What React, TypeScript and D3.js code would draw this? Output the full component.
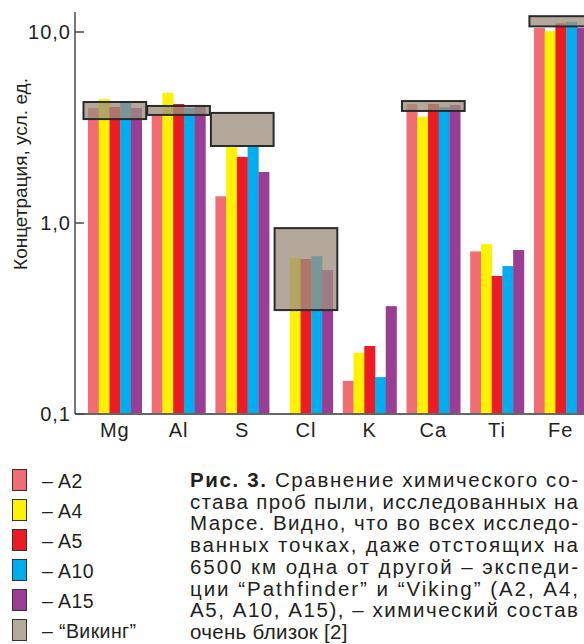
import * as d3 from "d3";
import { useEffect, useRef } from "react";

// elements on the x axis
const categories = ["Mg", "Al", "S", "Cl", "K", "Ca", "Ti", "Fe"];

// Pathfinder samples (null = not measured)
const a2 = [4.0, 3.7, 1.38, null, 0.149, 4.2, 0.71, 10.5];
const a4 = [4.45, 4.8, 2.55, 0.655, 0.209, 3.6, 0.775, 10.1];
const a5 = [4.05, 4.2, 2.22, 0.648, 0.227, 4.2, 0.528, 11.1];
const a10 = [4.25, 4.0, 2.55, 0.67, 0.156, 4.05, 0.595, 11.3];
const a15 = [4.0, 4.15, 1.85, 0.567, 0.367, 4.15, 0.722, 10.5];

// Viking range (low / high)
const vikingLow = [3.5, 3.68, 2.53, 0.35, null, 3.86, null, 10.7];
const vikingHigh = [4.3, 4.1, 3.77, 0.94, null, 4.35, null, 12.1];

const seriesNames = ["A2", "A4", "A5", "A10", "A15"];
const seriesValues = [a2, a4, a5, a10, a15];
const seriesColors = ["#f26c74", "#fff200", "#ed1c24", "#00aeef", "#9a3d95"];

const yTicks = [0.1, 1, 10];
const yTickLabels = ["0,1", "1,0", "10,0"];

const legendLabels = [...seriesNames.map((s) => `– ${s}`), "– “Викинг”"];
const legendColors = [...seriesColors, "#b4aa9c"];

const captionLines = [
  "Сравнение химического со-",
  "става проб пыли, исследованных на",
  "Марсе. Видно, что во всех исследо-",
  "ванных точках, даже отстоящих на",
  "6500 км одна от другой – экспеди-",
  "ции “Pathfinder” и “Viking” (А2, А4,",
  "А5, А10, А15), – химический состав",
  "очень близок [2]",
];

const font = "'Liberation Sans', Arial, Helvetica, sans-serif";

function drawChart(gElement: SVGGElement) {
  const g = d3.select(gElement);
  g.selectAll("*").remove();

  const axisX = 75;
  const axisBottom = 414;

  const x = d3
    .scaleBand()
    .domain(categories)
    .range([axisX, 600.6])
    .paddingInner(0.157)
    .paddingOuter(0.204);

  const xInner = d3.scaleBand().domain(seriesNames).range([0, x.bandwidth()]);

  const y = d3.scaleLog().domain([0.1, 10]).range([axisBottom, 32]);

  // bars
  seriesValues.forEach((values, si) => {
    g.append("g")
      .selectAll("rect")
      .data(categories.map((c, i) => ({ c, v: values[i] })).filter((d) => d.v != null))
      .join("rect")
      .attr("x", (d) => (x(d.c) as number) + (xInner(seriesNames[si]) as number))
      .attr("y", (d) => y(d.v as number))
      .attr("width", xInner.bandwidth() + 0.3)
      .attr("height", (d) => axisBottom - y(d.v as number))
      .attr("fill", seriesColors[si]);
  });

  // Viking boxes
  const boxes = categories
    .map((c, i) => ({ c, lo: vikingLow[i], hi: vikingHigh[i] }))
    .filter((d) => d.lo != null && d.hi != null);

  g.append("g")
    .selectAll("rect")
    .data(boxes)
    .join("rect")
    .attr("x", (d) => (x(d.c) as number) - 4.5)
    .attr("y", (d) => y(d.hi as number))
    .attr("width", x.bandwidth() + 9)
    .attr("height", (d) => y(d.lo as number) - y(d.hi as number))
    .attr("fill", "#9d907e")
    .attr("fill-opacity", 0.78)
    .attr("stroke", "#2b2b2b")
    .attr("stroke-width", 2);

  // axes
  g.append("line")
    .attr("x1", axisX)
    .attr("x2", axisX)
    .attr("y1", 12)
    .attr("y2", axisBottom)
    .attr("stroke", "#4a4a4a")
    .attr("stroke-width", 1.5);
  g.append("line")
    .attr("x1", axisX)
    .attr("x2", 584)
    .attr("y1", axisBottom)
    .attr("y2", axisBottom)
    .attr("stroke", "#666")
    .attr("stroke-width", 1.8);

  const ticks = g.append("g").selectAll("g").data(yTicks).join("g");
  ticks
    .append("line")
    .attr("x1", axisX)
    .attr("x2", axisX + 9)
    .attr("y1", (d) => y(d))
    .attr("y2", (d) => y(d))
    .attr("stroke", "#4a4a4a")
    .attr("stroke-width", 1.5);
  ticks
    .append("text")
    .attr("x", axisX - 4)
    .attr("y", (d) => y(d) + 7)
    .attr("text-anchor", "end")
    .attr("font-size", 20)
    .attr("letter-spacing", 1)
    .attr("fill", "#231f20")
    .text((d, i) => yTickLabels[i]);

  g.append("g")
    .selectAll("text")
    .data(categories)
    .join("text")
    .attr("x", (d) => (x(d) as number) + x.bandwidth() / 2)
    .attr("y", 437)
    .attr("text-anchor", "middle")
    .attr("font-size", 20)
    .attr("letter-spacing", 1)
    .attr("fill", "#231f20")
    .text((d) => d);

  g.append("text")
    .attr("transform", "translate(27,174) rotate(-90)")
    .attr("text-anchor", "middle")
    .attr("font-size", 19)
    .attr("fill", "#231f20")
    .text("Концетрация, усл. ед.");
}

export default function App() {
  const chartRef = useRef<SVGGElement>(null);

  useEffect(() => {
    if (chartRef.current) drawChart(chartRef.current);
  }, []);

  return (
    <svg
      width={584}
      height={644}
      viewBox="0 0 584 644"
      style={{ position: "absolute", left: 0, top: 0, display: "block", background: "#fff" }}
      fontFamily={font}
    >
      <g ref={chartRef} />
      <g>
        {legendLabels.map((label, i) => (
          <g key={label}>
            <rect
              x={12.5}
              y={469.5 + i * 30}
              width={14}
              height={21}
              fill={legendColors[i]}
              stroke="#333"
              strokeWidth={1}
            />
            <text x={42} y={487.5 + i * 30} fontSize={19.5} fill="#231f20" letterSpacing={0.4}>
              {label}
            </text>
          </g>
        ))}
      </g>
      <g fill="#231f20" fontSize={20.5}>
        {captionLines.map((line, i) =>
          i === 0 ? (
            <text key={i} x={190} y={487} textLength={388} lengthAdjust="spacing">
              <tspan fontWeight="bold">Рис. 3.</tspan> {line}
            </text>
          ) : i < captionLines.length - 1 ? (
            <text key={i} x={190} y={487 + i * 21.7} textLength={388} lengthAdjust="spacing">
              {line}
            </text>
          ) : (
            <text key={i} x={190} y={487 + i * 21.7} letterSpacing={0.3}>
              {line}
            </text>
          )
        )}
      </g>
    </svg>
  );
}
